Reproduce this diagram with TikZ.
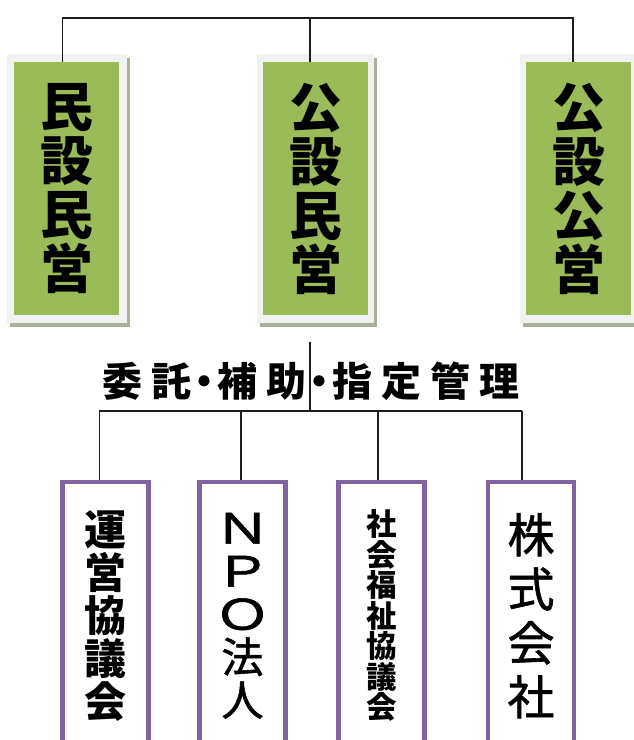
\documentclass[tikz,border=0pt]{standalone}
\usepackage{fontspec}
\usepackage{graphicx}
\setmainfont{Noto Sans CJK JP}
\newfontfamily\medfont[FakeBold=1.3]{Noto Sans CJK JP}
\definecolor{boxgreen}{RGB}{155,187,89}
\definecolor{framegray}{RGB}{242,242,242}
\definecolor{shadowgreen}{RGB}{168,178,150}
\definecolor{boxpurple}{RGB}{128,100,162}
\definecolor{linegray}{RGB}{30,30,30}
\newcommand{\wlat}[1]{\scalebox{1.35}[1]{#1}}
\newcommand{\lgap}{\hspace{9pt}}
\newcommand{\ldot}{\makebox[26pt][c]{・}}
\tikzset{
  conn/.style={draw=linegray, line width=1.2pt},
  greenbox/.style={fill=boxgreen, draw=none, minimum width=105pt, minimum height=253pt,
    inner sep=0pt, align=center, font=\bfseries\fontsize{53}{54}\selectfont},
  purplebox/.style={draw=boxpurple, line width=4.5pt, fill=white, minimum width=86pt,
    minimum height=268pt, inner sep=0pt, align=center},
}
\begin{document}
\begin{tikzpicture}[x=1pt,y=-1pt]
\useasboundingbox (0,0) rectangle (634,740);
\clip (0,0) rectangle (634,740);
% frames and shadows of green boxes
\foreach \l/\r in {7/127, 257/374, 520/640}{
  \fill[shadowgreen] (\l+3,58) rectangle (\r+3,327);
  \fill[framegray] (\l,54) rectangle (\r,323);
}
\node[greenbox] (g1) at (66.5,188.5) {民\\設\\民\\営};
\node[greenbox] (g2) at (315.5,188.5) {公\\設\\民\\営};
\node[greenbox] (g3) at (578.5,188.5) {公\\設\\公\\営};
% top connectors
\coordinate (t1) at (62.7,18);
\coordinate (t2) at (310,18);
\coordinate (t3) at (573,18);
\draw[conn] (t1 |- g1.north) -- (t1) -- (t3) -- (t3 |- g3.north);
\draw[conn] (t2) -- (t2 |- g2.north);
% label
\node[font=\bfseries\fontsize{40}{42}\selectfont, inner sep=0pt] (lab) at (311,381)
  {委\lgap 託\ldot 補\lgap 助\ldot 指\lgap 定\lgap 管\lgap 理};
% purple boxes
\node[purplebox, font=\bfseries\fontsize{42}{43}\selectfont] (p1) at (105.5,615.75) {運\\営\\協\\議\\会};
\node[purplebox, font=\medfont\fontsize{42}{43}\selectfont] (p2) at (242.5,615.75) {\wlat{Ｎ}\\\wlat{Ｐ}\\\wlat{Ｏ}\\法\\人};
\node[purplebox, font=\bfseries\fontsize{30.5}{30.5}\selectfont] (p3) at (381.5,615.75) {社\\会\\福\\祉\\協\\議\\会};
\node[purplebox, font=\medfont\fontsize{47}{54}\selectfont] (p4) at (531,615.75) {株\\式\\会\\社};
% lower connectors
\coordinate (c0) at (310,342);
\coordinate (m) at (310,411);
\coordinate (b1) at (99.3,411);
\coordinate (b2) at (241,411);
\coordinate (b3) at (378,411);
\coordinate (b4) at (522,411);
\draw[conn] (c0) -- (m);
\draw[conn] (b1) -- (b4);
\draw[conn] (b1) -- (b1 |- p1.north);
\draw[conn] (b2) -- (b2 |- p2.north);
\draw[conn] (b3) -- (b3 |- p3.north);
\draw[conn] (b4) -- (b4 |- p4.north);
\end{tikzpicture}
\end{document}
